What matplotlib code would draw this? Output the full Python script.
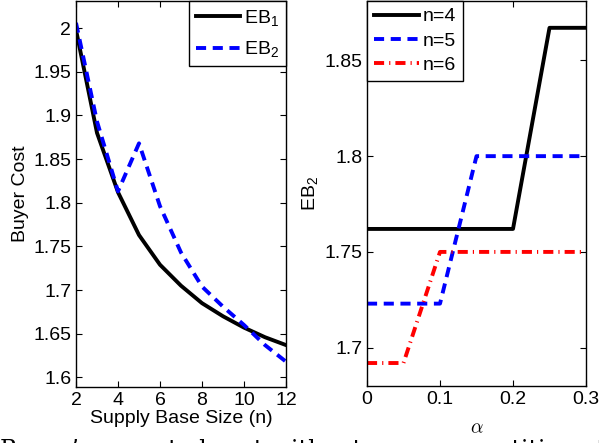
import numpy as np
import matplotlib as mpl
mpl.use("Agg")
from matplotlib import pyplot as plt

## Data
n_vals = [2, 3, 4, 5, 6, 7, 8, 9, 10, 11, 12]
eb1 = [1.998, 1.880, 1.812, 1.763, 1.729, 1.705, 1.685, 1.670, 1.657, 1.646, 1.637]
eb2 = [2.006, 1.893, 1.813, 1.868, 1.796, 1.743, 1.704, 1.681, 1.660, 1.637, 1.618]

alpha = [0.0, 0.05, 0.10, 0.15, 0.20, 0.25, 0.30]
eb2_n4 = [1.762, 1.762, 1.762, 1.762, 1.762, 1.867, 1.867]
eb2_n5 = [1.723, 1.723, 1.723, 1.800, 1.800, 1.800, 1.800]
eb2_n6 = [1.692, 1.692, 1.750, 1.750, 1.750, 1.750, 1.750]

mpl.rcParams.update({
    "font.family": "Liberation Sans",
    "font.size": 14,
    "mathtext.fontset": "custom",
    "mathtext.rm": "Liberation Sans",
    "mathtext.it": "Liberation Sans:italic",
    "mathtext.bf": "Liberation Sans:bold",
    "xtick.direction": "in",
    "ytick.direction": "in",
    "xtick.top": True,
    "ytick.right": True,
    "xtick.major.size": 4,
    "ytick.major.size": 4,
    "axes.linewidth": 1.0,
})

DASH = (2.6, 1.7)
DASHDOT = (2.6, 1.3, 0.3, 1.3)

fig = plt.figure(figsize=(5.99, 4.43), dpi=100)
W, H = 599.0, 443.0

## Left panel
axl = fig.add_axes([76 / W, 1 - 387 / H, 210 / W, 386 / H])
axl.plot(n_vals, eb1, color="k", lw=2.8, label=r"EB$_\mathrm{1}$")
axl.plot(n_vals, eb2, color="b", lw=2.8, dashes=DASH, label=r"EB$_\mathrm{2}$")
axl.set_xlim(2, 12)
axl.set_ylim(1.589, 2.031)
axl.set_xticks([2, 4, 6, 8, 10, 12])
axl.set_yticks(np.arange(1.6, 2.001, 0.05))
axl.set_yticklabels(["1.6", "1.65", "1.7", "1.75", "1.8", "1.85", "1.9", "1.95", "2"])
axl.set_xlabel("Supply Base Size (n)", labelpad=1)
axl.set_ylabel("Buyer Cost", labelpad=3)
leg = axl.legend(loc="upper right", fancybox=False, edgecolor="k", borderaxespad=0,
                 handlelength=2.3, framealpha=1, borderpad=0.35,
                 labelspacing=0.6, handletextpad=0.2)
leg.get_frame().set_linewidth(1.0)

## Right panel
axr = fig.add_axes([367 / W, 1 - 386 / H, 219 / W, 385 / H])
axr.plot(alpha, eb2_n4, color="k", lw=2.8, label="n=4")
axr.plot(alpha, eb2_n5, color="b", lw=2.8, dashes=DASH, label="n=5")
axr.plot(alpha, eb2_n6, color="r", lw=2.8, dashes=DASHDOT, label="n=6")
axr.set_xlim(0, 0.3)
axr.set_ylim(1.68, 1.881)
axr.set_xticks([0, 0.1, 0.2, 0.3])
axr.set_xticklabels(["0", "0.1", "0.2", "0.3"])
axr.set_yticks([1.7, 1.75, 1.8, 1.85])
axr.set_yticklabels(["1.7", "1.75", "1.8", "1.85"])
axr.set_xlabel(r"$\alpha$", labelpad=9, fontsize=14, math_fontfamily="cm")
axr.set_ylabel(r"EB$_\mathrm{2}$", labelpad=3)
leg = axr.legend(loc="upper left", fancybox=False, edgecolor="k", borderaxespad=0,
                 handlelength=2.3, framealpha=1, borderpad=0.35,
                 labelspacing=0.35, handletextpad=0.2)
leg.get_frame().set_linewidth(1.0)

## cut-off caption line below the figure
fig.text(0.0, -19 / H, "Buyer\u2019s expected cost without pure competition at the",
         family="DejaVu Serif", fontsize=17, va="bottom", ha="left")

fig.savefig("out.png", dpi=100)
